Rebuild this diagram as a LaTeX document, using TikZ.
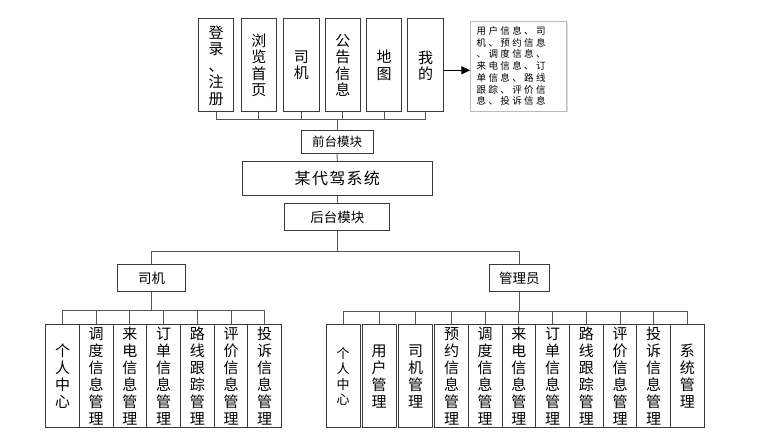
\documentclass[tikz,border=0pt]{standalone}
\usepackage{fontspec}
\setmainfont{Noto Sans CJK SC}
\usetikzlibrary{arrows.meta,shadows}
\definecolor{bord}{HTML}{3A3A3A}
\definecolor{conncol}{HTML}{555555}
\tikzset{
  box/.style={draw=bord, line width=1pt, inner sep=0pt, align=center, fill=white},
  topbox/.style={box, minimum width=35.5pt, minimum height=93pt, font=\fontsize{15}{16.5}\selectfont},
  lbl/.style={box, font=\fontsize{13.5}{15}\selectfont},
  bot/.style={box, minimum width=33.7pt, minimum height=103.3pt, font=\fontsize{15}{17}\selectfont},
  link/.style={draw=conncol, line width=0.9pt},
}
\begin{document}
\begin{tikzpicture}[x=1pt,y=-1pt]
\useasboundingbox (0,0) rectangle (772,436);
% top boxes
\node[topbox] (t1) at (216.2,65.5) {登\\录\\、\\注\\册};
\node[topbox] (t2) at (258.8,65.5) {浏\\览\\首\\页};
\node[topbox] (t3) at (301.4,65.5) {司\\机};
\node[topbox] (t4) at (342.8,65.5) {公\\告\\信\\息};
\node[topbox] (t5) at (384,65.5) {地\\图};
\node[topbox] (t6) at (425.5,65.5) {我\\的};
% info box
\node[draw=gray!55, line width=0.8pt, fill=white, drop shadow={shadow xshift=1.5pt, shadow yshift=-1.5pt, fill=gray!30, opacity=0.8},
      minimum width=96pt, minimum height=90pt, text width=84pt, inner xsep=6pt, align=left,
      font=\fontsize{9.5}{11.7}\selectfont\addfontfeature{LetterSpace=25}] (info) at (518.7,66)
  {用户信息、司\\机、预约信息\\、调度信息、\\来电信息、订\\单信息、路线\\跟踪、评价信\\息、投诉信息};
\draw[link, draw=black, -{Triangle[length=9pt,width=8pt]}] ([yshift=-4.8pt]t6.east) -- ([yshift=-4.3pt]info.west);
% middle
\node[lbl, minimum width=72pt, minimum height=22.5pt, font=\fontsize{12.5}{14}\selectfont] (front) at (337,142) {前台模块};
\node[lbl, minimum width=190pt, minimum height=34pt, font=\fontsize{16}{18}\selectfont\addfontfeature{LetterSpace=8}] (sys) at (337.3,178.3) {某代驾系统};
\node[lbl, minimum width=105pt, minimum height=26.5pt] (back) at (337.3,217) {后台模块};
\node[lbl, minimum width=67.6pt, minimum height=26.3pt] (drv) at (151.5,278) {司机};
\node[lbl, minimum width=60pt, minimum height=26.3pt] (adm) at (519.3,278) {管理员};
\coordinate (busT) at (337,119);
\coordinate (busM) at (337.3,251.3);
\coordinate (busL) at (151.5,310);
\coordinate (busR) at (519.3,311.7);
\foreach \i in {1,...,6} { \draw[link] (t\i.south) |- (busT); }
\draw[link] (busT) -- (front.north);
\draw[link] (front.south) -- (sys.north);
\draw[link] (sys.south) -- (back.north);
\draw[link] (back.south) -- (busM) -| (drv.north);
\draw[link] (busM) -| (adm.north);
\draw[link] (drv.south) -- (busL);
\draw[link] (adm.south) -- (busR);
% left bottom boxes
\node[bot] (l1) at (62.5,376.3) {个\\人\\中\\心};
\node[bot] (l2) at (96.2,376.3) {调\\度\\信\\息\\管\\理};
\node[bot] (l3) at (129.9,376.3) {来\\电\\信\\息\\管\\理};
\node[bot] (l4) at (163.6,376.3) {订\\单\\信\\息\\管\\理};
\node[bot] (l5) at (197.3,376.3) {路\\线\\跟\\踪\\管\\理};
\node[bot] (l6) at (231,376.3) {评\\价\\信\\息\\管\\理};
\node[bot] (l7) at (264.7,376.3) {投\\诉\\信\\息\\管\\理};
\foreach \i in {1,...,7} { \draw[link] (busL) -| (l\i.north); }
% right bottom boxes
\node[bot, font=\fontsize{13}{15.5}\selectfont] (r1) at (343.2,376.3) {个\\人\\中\\心};
\node[bot] (r2) at (379.2,376.3) {用\\户\\管\\理};
\node[bot] (r3) at (415.5,376.3) {司\\机\\管\\理};
\node[bot] (r4) at (451.5,376.3) {预\\约\\信\\息\\管\\理};
\node[bot] (r5) at (485.2,376.3) {调\\度\\信\\息\\管\\理};
\node[bot] (r6) at (518.9,376.3) {来\\电\\信\\息\\管\\理};
\node[bot] (r7) at (552.6,376.3) {订\\单\\信\\息\\管\\理};
\node[bot] (r8) at (586.3,376.3) {路\\线\\跟\\踪\\管\\理};
\node[bot] (r9) at (620,376.3) {评\\价\\信\\息\\管\\理};
\node[bot] (r10) at (653.7,376.3) {投\\诉\\信\\息\\管\\理};
\node[bot] (r11) at (687.4,376.3) {系\\统\\管\\理};
\foreach \i in {1,...,11} { \draw[link] (busR) -| (r\i.north); }
\end{tikzpicture}
\end{document}
